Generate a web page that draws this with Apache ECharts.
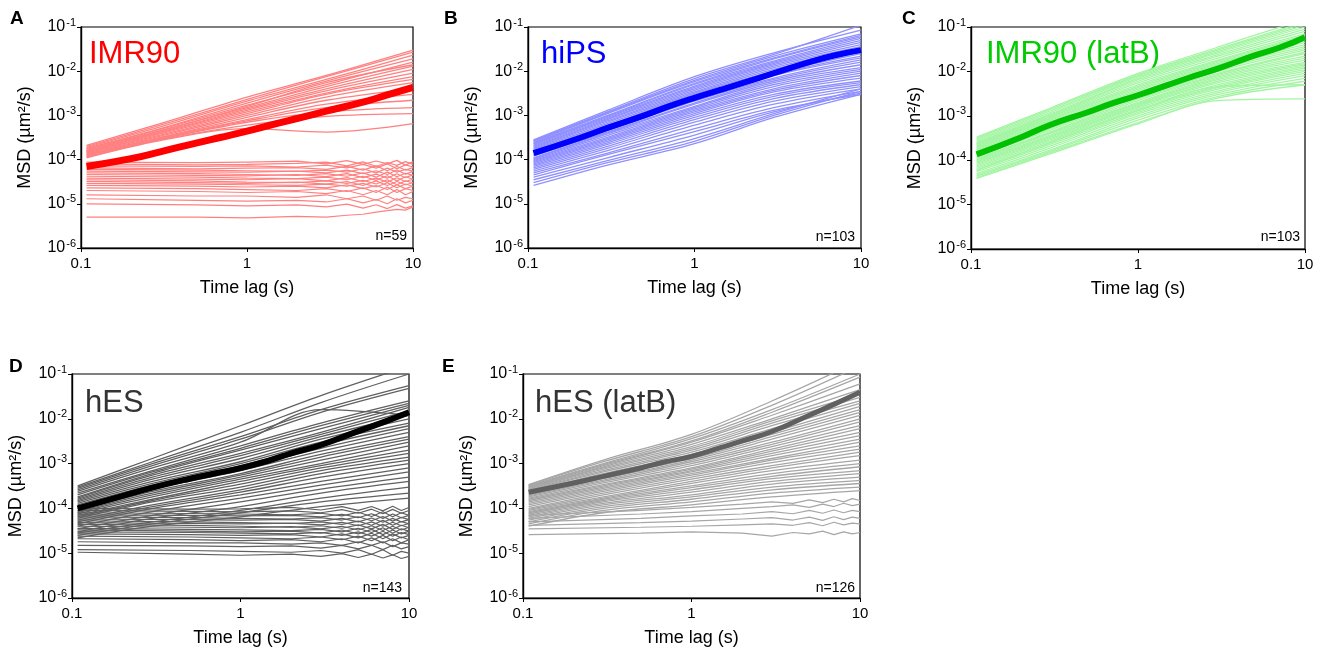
<!DOCTYPE html>
<html><head><meta charset="utf-8">
<script src="https://cdn.jsdelivr.net/npm/echarts@6/dist/echarts.min.js"></script>
<style>html,body{margin:0;padding:0;background:#fff}#c{width:1327px;height:648px}</style>
</head><body><div id="c"></div><script>
// ---------- DATA ----------
const LAGS = [0.108, 0.3, 1, 3, 10];
const NOISE_LAGS = [0.108, 0.5, 1, 2, 3, 4, 5, 6, 7, 8, 9, 10];
const MEAN_LAGS = [0.108, 0.2, 0.3, 0.5, 0.7, 1, 1.5, 2, 3, 5, 7, 10];
const X_TICKS = [0.1, 1, 10];
const Y_TICKS = [1e-6, 1e-5, 1e-4, 1e-3, 1e-2, 1e-1];
const PANEL_NAMES = ['IMR90', 'hiPS', 'IMR90 (latB)', 'hES', 'hES (latB)'];
const PANEL_N = ['n=59', 'n=103', 'n=103', 'n=143', 'n=126'];

const IMR90_MEAN = [7.0e-5, 1.05e-4, 1.5e-4, 2.4e-4, 3.2e-4, 4.4e-4, 6.5e-4, 8.5e-4, 1.25e-3, 2.0e-3, 2.9e-3, 4.3e-3];
const IMR90_RISING = [
 [2.1e-4, 6.5e-4, 2.6e-3, 8e-3, 3.0e-2],
 [2.0e-4, 6e-4, 2.3e-3, 7.5e-3, 2.7e-2],
 [1.9e-4, 5.5e-4, 2.1e-3, 6.5e-3, 2.3e-2],
 [1.8e-4, 5e-4, 1.9e-3, 6e-3, 1.9e-2],
 [1.75e-4, 4.8e-4, 1.7e-3, 5e-3, 1.6e-2],
 [1.7e-4, 4.5e-4, 1.5e-3, 4.5e-3, 1.3e-2],
 [1.6e-4, 4.2e-4, 1.4e-3, 4e-3, 1.1e-2],
 [1.55e-4, 4e-4, 1.3e-3, 3.6e-3, 9e-3],
 [1.5e-4, 3.8e-4, 1.2e-3, 3.2e-3, 7.5e-3],
 [1.45e-4, 3.6e-4, 1.1e-3, 3e-3, 6.5e-3],
 [1.4e-4, 3.4e-4, 1.0e-3, 2.6e-3, 5.5e-3],
 [1.35e-4, 3.2e-4, 9e-4, 2.2e-3, 4e-3],
 [1.3e-4, 3.1e-4, 8e-4, 1.8e-3, 3e-3],
 [1.25e-4, 3e-4, 7.5e-4, 1.5e-3, 2.2e-3],
 [1.2e-4, 2.9e-4, 7e-4, 1.2e-3, 1.5e-3],
 [1.15e-4, 2.8e-4, 6e-4, 9.5e-4, 1.1e-3],
 [1.1e-4, 2.7e-4, 5e-4, 4.2e-4, 6.5e-4],
 [1.6e-4, 4.4e-4, 1.6e-3, 5.5e-3, 1.4e-2]
];
const IMR90_FLAT = [
 [8.8e-5, 8.5e-5, 8.8e-5, 9.2e-5, 8e-5, 9.5e-5, 7.8e-5, 9.3e-5, 8e-5, 9.6e-5, 7.5e-5, 9e-5],
 [8e-5, 7.6e-5, 7.8e-5, 8.2e-5, 8.8e-5, 7.2e-5, 8.9e-5, 7e-5, 8.6e-5, 7.4e-5, 9e-5, 7.8e-5],
 [7.2e-5, 7e-5, 7.2e-5, 6.8e-5, 7.5e-5, 6.5e-5, 7.8e-5, 6.4e-5, 8e-5, 6.2e-5, 7.6e-5, 6.8e-5],
 [6.5e-5, 6.2e-5, 6.4e-5, 6.6e-5, 6e-5, 7e-5, 5.8e-5, 7.2e-5, 5.6e-5, 7e-5, 5.8e-5, 6.6e-5],
 [6e-5, 5.8e-5, 5.6e-5, 5.4e-5, 5.8e-5, 5.2e-5, 6.2e-5, 5e-5, 6.4e-5, 5.2e-5, 6e-5, 5.5e-5],
 [5.5e-5, 5.3e-5, 5.2e-5, 5.5e-5, 5e-5, 5.8e-5, 4.8e-5, 5.6e-5, 4.6e-5, 5.8e-5, 4.7e-5, 5.4e-5],
 [5e-5, 4.8e-5, 4.6e-5, 4.4e-5, 4.8e-5, 4.2e-5, 5e-5, 4e-5, 5.2e-5, 4.1e-5, 4.9e-5, 4.4e-5],
 [4.6e-5, 4.4e-5, 4.3e-5, 4.6e-5, 4.1e-5, 4.8e-5, 3.9e-5, 4.7e-5, 3.8e-5, 4.8e-5, 3.9e-5, 4.5e-5],
 [4.2e-5, 4e-5, 3.8e-5, 3.7e-5, 4e-5, 3.5e-5, 4.2e-5, 3.4e-5, 4.3e-5, 3.3e-5, 4.1e-5, 3.6e-5],
 [3.8e-5, 3.6e-5, 3.5e-5, 3.7e-5, 3.3e-5, 3.9e-5, 3.2e-5, 3.8e-5, 3.1e-5, 3.9e-5, 3.2e-5, 3.6e-5],
 [3.5e-5, 3.3e-5, 3.1e-5, 3e-5, 3.3e-5, 2.9e-5, 3.4e-5, 2.8e-5, 3.5e-5, 2.7e-5, 3.3e-5, 3e-5],
 [3.2e-5, 3e-5, 2.9e-5, 3.1e-5, 2.8e-5, 3.2e-5, 2.6e-5, 3.3e-5, 2.6e-5, 3.2e-5, 2.7e-5, 3e-5],
 [2.9e-5, 2.8e-5, 2.7e-5, 2.6e-5, 2.8e-5, 2.5e-5, 2.9e-5, 2.4e-5, 3e-5, 2.3e-5, 2.8e-5, 2.5e-5],
 [2.6e-5, 2.5e-5, 2.4e-5, 2.5e-5, 2.3e-5, 2.7e-5, 2.2e-5, 2.6e-5, 2.1e-5, 2.7e-5, 2.2e-5, 2.5e-5],
 [2.3e-5, 2.2e-5, 2.1e-5, 2e-5, 2.2e-5, 1.9e-5, 2.3e-5, 1.8e-5, 2.4e-5, 1.8e-5, 2.2e-5, 2e-5],
 [2e-5, 1.9e-5, 1.8e-5, 1.9e-5, 1.7e-5, 2e-5, 1.6e-5, 2e-5, 1.6e-5, 2.1e-5, 1.6e-5, 1.9e-5],
 [1.6e-5, 1.5e-5, 1.5e-5, 1.4e-5, 1.6e-5, 1.3e-5, 1.5e-5, 1.2e-5, 1.5e-5, 1.2e-5, 1.4e-5, 1.3e-5],
 [1.3e-5, 1.2e-5, 1.15e-5, 1.2e-5, 1.1e-5, 1.3e-5, 1.05e-5, 1.25e-5, 1e-5, 1.3e-5, 1.05e-5, 1.2e-5],
 [1e-5, 9.5e-6, 9e-6, 9.5e-6, 8.5e-6, 9.8e-6, 8e-6, 9.5e-6, 7.8e-6, 9.6e-6, 8e-6, 9e-6],
 [5e-6, 5e-6, 4.8e-6, 5.2e-6, 5e-6, 5.5e-6, 5.8e-6, 6.5e-6, 7e-6, 7.5e-6, 7.2e-6, 8.5e-6]
];

const HIPS_MEAN = [1.4e-4, 3e-4, 5.2e-4, 1.0e-3, 1.6e-3, 2.5e-3, 4e-3, 5.6e-3, 9e-3, 1.65e-2, 2.3e-2, 3.0e-2];
const HIPS_RISING = [
 [2.8e-4, 1.3e-3, 7.5e-3, 2.6e-2, 8.5e-2],
 [2.7e-4, 1.2e-3, 6.8e-3, 2.4e-2, 1.1e-1],
 [2.6e-4, 1.15e-3, 6.2e-3, 2.2e-2, 7e-2],
 [2.5e-4, 1.1e-3, 5.8e-3, 2e-2, 6.5e-2],
 [2.4e-4, 1.0e-3, 5.3e-3, 1.9e-2, 6e-2],
 [2.3e-4, 9.5e-4, 5e-3, 1.7e-2, 5.5e-2],
 [2.2e-4, 9e-4, 4.6e-3, 1.6e-2, 5e-2],
 [2.1e-4, 8.5e-4, 4.3e-3, 1.5e-2, 4.5e-2],
 [2.0e-4, 8e-4, 4e-3, 1.4e-2, 4e-2],
 [1.9e-4, 7.5e-4, 3.7e-3, 1.3e-2, 3.6e-2],
 [1.8e-4, 7e-4, 3.4e-3, 1.2e-2, 3.3e-2],
 [1.7e-4, 6.5e-4, 3.2e-3, 1.1e-2, 3e-2],
 [1.6e-4, 6e-4, 3e-3, 1.0e-2, 2.7e-2],
 [1.5e-4, 5.6e-4, 2.8e-3, 9e-3, 2.5e-2],
 [1.4e-4, 5.2e-4, 2.5e-3, 8.5e-3, 2.2e-2],
 [1.3e-4, 4.8e-4, 2.3e-3, 8e-3, 2e-2],
 [1.25e-4, 4.5e-4, 2.1e-3, 7e-3, 1.8e-2],
 [1.2e-4, 4.2e-4, 1.9e-3, 6.5e-3, 1.6e-2],
 [1.1e-4, 4e-4, 1.8e-3, 6e-3, 1.4e-2],
 [1.05e-4, 3.8e-4, 1.6e-3, 5.5e-3, 1.2e-2],
 [1.0e-4, 3.5e-4, 1.5e-3, 5e-3, 1.1e-2],
 [9.5e-5, 3.2e-4, 1.4e-3, 4.5e-3, 1.0e-2],
 [9e-5, 3e-4, 1.3e-3, 4e-3, 9e-3],
 [8.5e-5, 2.8e-4, 1.2e-3, 3.7e-3, 8e-3],
 [8e-5, 2.6e-4, 1.1e-3, 3.4e-3, 7e-3],
 [7.5e-5, 2.4e-4, 1.0e-3, 3e-3, 6e-3],
 [7e-5, 2.2e-4, 9e-4, 2.7e-3, 5.5e-3],
 [6.5e-5, 2e-4, 8e-4, 2.4e-3, 5e-3],
 [6e-5, 1.8e-4, 7e-4, 2.1e-3, 4.5e-3],
 [5.5e-5, 1.6e-4, 6e-4, 1.8e-3, 4e-3],
 [5e-5, 1.4e-4, 5e-4, 1.5e-3, 3.5e-3],
 [4.5e-5, 1.3e-4, 4.3e-4, 1.3e-3, 3e-3],
 [4e-5, 1.1e-4, 3.6e-4, 1.2e-3, 3.2e-3],
 [3.5e-5, 9.5e-5, 3e-4, 1.1e-3, 4e-3],
 [3e-5, 8.5e-5, 2.6e-4, 1.0e-3, 3.5e-3],
 [2.6e-5, 7.5e-5, 2.3e-4, 9e-4, 3e-3]
];

const LATB_MEAN = [1.35e-4, 3.3e-4, 6.3e-4, 1.2e-3, 1.9e-3, 2.9e-3, 4.9e-3, 7.1e-3, 1.15e-2, 2.3e-2, 3.4e-2, 5.9e-2];
const LATB_RISING = [
 [3.3e-4, 1.5e-3, 9e-3, 3.5e-2, 1.5e-1],
 [3.1e-4, 1.4e-3, 8.5e-3, 3.2e-2, 1.3e-1],
 [2.9e-4, 1.3e-3, 8e-3, 3e-2, 1.2e-1],
 [2.7e-4, 1.2e-3, 7.5e-3, 2.8e-2, 1.1e-1],
 [2.5e-4, 1.1e-3, 7e-3, 2.6e-2, 1.0e-1],
 [2.4e-4, 1.05e-3, 6.5e-3, 2.4e-2, 9e-2],
 [2.3e-4, 1.0e-3, 6e-3, 2.2e-2, 8e-2],
 [2.2e-4, 9.5e-4, 5.5e-3, 2e-2, 7e-2],
 [2.1e-4, 9e-4, 5e-3, 1.8e-2, 6.5e-2],
 [2e-4, 8.5e-4, 4.6e-3, 1.7e-2, 6e-2],
 [1.9e-4, 8e-4, 4.3e-3, 1.6e-2, 5.5e-2],
 [1.8e-4, 7.5e-4, 4e-3, 1.5e-2, 5e-2],
 [1.7e-4, 7e-4, 3.7e-3, 1.4e-2, 4.5e-2],
 [1.6e-4, 6.5e-4, 3.4e-3, 1.3e-2, 4e-2],
 [1.5e-4, 6e-4, 3.2e-3, 1.2e-2, 3.6e-2],
 [1.4e-4, 5.6e-4, 3e-3, 1.1e-2, 3.3e-2],
 [1.3e-4, 5.2e-4, 2.8e-3, 1e-2, 3e-2],
 [1.2e-4, 4.8e-4, 2.6e-3, 9e-3, 2.7e-2],
 [1.1e-4, 4.4e-4, 2.4e-3, 8.5e-3, 2.5e-2],
 [1.05e-4, 4.2e-4, 2.2e-3, 8e-3, 2.2e-2],
 [1e-4, 4e-4, 2e-3, 7.5e-3, 2e-2],
 [9.5e-5, 3.7e-4, 1.9e-3, 7e-3, 1.8e-2],
 [9e-5, 3.5e-4, 1.8e-3, 6.5e-3, 1.6e-2],
 [8.5e-5, 3.3e-4, 1.7e-3, 6e-3, 1.5e-2],
 [8e-5, 3.1e-4, 1.6e-3, 5.5e-3, 1.4e-2],
 [7.5e-5, 2.9e-4, 1.5e-3, 5e-3, 1.3e-2],
 [7e-5, 2.7e-4, 1.4e-3, 4.6e-3, 1.2e-2],
 [6.5e-5, 2.5e-4, 1.3e-3, 4.3e-3, 1.1e-2],
 [6e-5, 2.3e-4, 1.2e-3, 4e-3, 1e-2],
 [5.5e-5, 2.1e-4, 1.1e-3, 3.6e-3, 9e-3],
 [5e-5, 1.9e-4, 1e-3, 3.3e-3, 8e-3],
 [4.6e-5, 1.7e-4, 9e-4, 3e-3, 7e-3],
 [4.3e-5, 1.6e-4, 8e-4, 2.7e-3, 6e-3],
 [4e-5, 1.5e-4, 7e-4, 2.5e-3, 5e-3],
 [3.9e-5, 1.4e-4, 6.6e-4, 2.2e-3, 2.4e-3],
 [6e-5, 2.5e-4, 1.3e-3, 4.5e-3, 5e-3]
];

const HES_MEAN = [1.0e-4, 1.9e-4, 2.9e-4, 4.6e-4, 6e-4, 7.9e-4, 1.2e-3, 1.7e-3, 2.6e-3, 5.3e-3, 8.3e-3, 1.4e-2];
const HES_RISING = [
 [3.2e-4, 1.3e-3, 7e-3, 3.3e-2, 1.5e-1],
 [3e-4, 1.1e-3, 5e-3, 2.3e-2, 1e-1],
 [2.8e-4, 1e-3, 4e-3, 1.6e-2, 5.5e-2],
 [2.6e-4, 9e-4, 3.5e-3, 1.4e-2, 4.8e-2],
 [2.4e-4, 8e-4, 3e-3, 1.6e-2, 1.2e-2],
 [2.2e-4, 7e-4, 2.5e-3, 8e-3, 2.5e-2],
 [2e-4, 6.5e-4, 2.2e-3, 7e-3, 2.2e-2],
 [1.8e-4, 6e-4, 2e-3, 6e-3, 2e-2],
 [1.7e-4, 5.5e-4, 1.7e-3, 5e-3, 1.8e-2],
 [1.6e-4, 5e-4, 1.5e-3, 4.5e-3, 1.5e-2],
 [1.5e-4, 4.5e-4, 1.3e-3, 4e-3, 1.2e-2],
 [1.4e-4, 4e-4, 1.1e-3, 3.5e-3, 1e-2],
 [1.3e-4, 3.6e-4, 1e-3, 3e-3, 8e-3],
 [1.2e-4, 3.3e-4, 9e-4, 2.6e-3, 7e-3],
 [1.1e-4, 3e-4, 8e-4, 2.2e-3, 6e-3],
 [1e-4, 2.7e-4, 7e-4, 1.9e-3, 5e-3],
 [9e-5, 2.4e-4, 6e-4, 1.6e-3, 4e-3],
 [8.5e-5, 2.2e-4, 5.5e-4, 1.4e-3, 3.5e-3],
 [8e-5, 2e-4, 5e-4, 1.2e-3, 3e-3],
 [7.5e-5, 1.8e-4, 4.5e-4, 1e-3, 2.5e-3],
 [7e-5, 1.6e-4, 4e-4, 9e-4, 2e-3],
 [6.5e-5, 1.5e-4, 3.5e-4, 8e-4, 1.7e-3],
 [6e-5, 1.4e-4, 3e-4, 7e-4, 1.4e-3],
 [5.5e-5, 1.2e-4, 2.6e-4, 6e-4, 1.2e-3],
 [5e-5, 1.1e-4, 2.3e-4, 5e-4, 1e-3],
 [4.5e-5, 1e-4, 2e-4, 4e-4, 8e-4],
 [4e-5, 8.5e-5, 1.7e-4, 3.3e-4, 6.5e-4],
 [3.5e-5, 7e-5, 1.4e-4, 2.7e-4, 5e-4],
 [3e-5, 6e-5, 1.1e-4, 2.2e-4, 4e-4],
 [2.8e-5, 5e-5, 9e-5, 1.7e-4, 3e-4],
 [2.5e-5, 4.5e-5, 8e-5, 1.4e-4, 2.2e-4],
 [2.2e-5, 4e-5, 6.5e-5, 1.1e-4, 1.7e-4]
];
const HES_FLAT = [
 [1e-4, 9.6e-5, 9.8e-5, 1.05e-4, 9.2e-5, 1.1e-4, 9e-5, 1.1e-4, 8.8e-5, 1.12e-4, 9e-5, 1.05e-4],
 [9e-5, 8.6e-5, 8.4e-5, 8.8e-5, 8e-5, 9.4e-5, 7.8e-5, 9.6e-5, 7.6e-5, 9.5e-5, 7.8e-5, 9e-5],
 [8e-5, 7.7e-5, 7.5e-5, 7.2e-5, 7.8e-5, 6.8e-5, 8.2e-5, 6.6e-5, 8.4e-5, 6.5e-5, 8e-5, 7e-5],
 [7.2e-5, 7e-5, 6.8e-5, 7e-5, 6.5e-5, 7.4e-5, 6.2e-5, 7.6e-5, 6e-5, 7.5e-5, 6.2e-5, 7e-5],
 [6.5e-5, 6.2e-5, 6e-5, 5.8e-5, 6.2e-5, 5.5e-5, 6.5e-5, 5.3e-5, 6.6e-5, 5.2e-5, 6.3e-5, 5.6e-5],
 [5.8e-5, 5.6e-5, 5.5e-5, 5.7e-5, 5.2e-5, 6e-5, 5e-5, 6.1e-5, 4.9e-5, 6e-5, 5e-5, 5.6e-5],
 [5.3e-5, 5e-5, 4.8e-5, 4.6e-5, 5e-5, 4.4e-5, 5.2e-5, 4.2e-5, 5.4e-5, 4.2e-5, 5.1e-5, 4.5e-5],
 [4.8e-5, 4.6e-5, 4.5e-5, 4.7e-5, 4.3e-5, 4.9e-5, 4.1e-5, 5e-5, 4e-5, 4.9e-5, 4.1e-5, 4.6e-5],
 [4.4e-5, 4.2e-5, 4e-5, 3.8e-5, 4.1e-5, 3.6e-5, 4.3e-5, 3.5e-5, 4.4e-5, 3.4e-5, 4.2e-5, 3.7e-5],
 [4e-5, 3.8e-5, 3.7e-5, 3.9e-5, 3.5e-5, 4e-5, 3.3e-5, 4.1e-5, 3.2e-5, 4e-5, 3.3e-5, 3.8e-5],
 [3.6e-5, 3.4e-5, 3.3e-5, 3.2e-5, 3.4e-5, 3e-5, 3.6e-5, 2.9e-5, 3.7e-5, 2.8e-5, 3.5e-5, 3.1e-5],
 [3.3e-5, 3.1e-5, 3e-5, 3.1e-5, 2.8e-5, 3.3e-5, 2.7e-5, 3.4e-5, 2.6e-5, 3.3e-5, 2.7e-5, 3.1e-5],
 [3e-5, 2.9e-5, 2.8e-5, 2.7e-5, 2.9e-5, 2.5e-5, 3e-5, 2.4e-5, 3.1e-5, 2.4e-5, 2.9e-5, 2.6e-5],
 [2.7e-5, 2.6e-5, 2.5e-5, 2.6e-5, 2.3e-5, 2.7e-5, 2.2e-5, 2.8e-5, 2.1e-5, 2.7e-5, 2.2e-5, 2.5e-5],
 [2.4e-5, 2.3e-5, 2.2e-5, 2.1e-5, 2.3e-5, 2e-5, 2.4e-5, 1.9e-5, 2.5e-5, 1.9e-5, 2.3e-5, 2e-5],
 [2.1e-5, 2e-5, 1.9e-5, 2e-5, 1.8e-5, 2.1e-5, 1.7e-5, 2.2e-5, 1.7e-5, 2.1e-5, 1.7e-5, 2e-5],
 [1.8e-5, 1.7e-5, 1.7e-5, 1.6e-5, 1.7e-5, 1.5e-5, 1.8e-5, 1.5e-5, 1.8e-5, 1.4e-5, 1.7e-5, 1.6e-5],
 [1.5e-5, 1.45e-5, 1.4e-5, 1.45e-5, 1.3e-5, 1.5e-5, 1.25e-5, 1.5e-5, 1.2e-5, 1.5e-5, 1.25e-5, 1.4e-5],
 [1.2e-5, 1.15e-5, 1.1e-5, 1.05e-5, 1.15e-5, 1e-5, 1.2e-5, 9.5e-6, 1.2e-5, 9e-6, 1.1e-5, 1e-5],
 [1.05e-5, 9.5e-6, 9e-6, 9.5e-6, 8.5e-6, 9.8e-6, 8e-6, 9.5e-6, 7.8e-6, 9.2e-6, 7.6e-6, 8.5e-6]
];

const HESLATB_MEAN = [2.3e-4, 3.7e-4, 5.2e-4, 8e-4, 1.1e-3, 1.45e-3, 2.3e-3, 3.2e-3, 5.2e-3, 1.2e-2, 2.1e-2, 3.9e-2];
const HESLATB_RISING = [
 [3.4e-4, 1.2e-3, 4.5e-3, 2.5e-2, 2e-1],
 [3.3e-4, 1.1e-3, 4e-3, 2e-2, 1.5e-1],
 [3.2e-4, 1e-3, 3.6e-3, 1.6e-2, 1e-1],
 [3.1e-4, 9.5e-4, 3.2e-3, 1.4e-2, 8.5e-2],
 [3e-4, 9e-4, 3e-3, 1.2e-2, 6e-2],
 [2.9e-4, 8.5e-4, 2.7e-3, 1e-2, 4.5e-2],
 [2.8e-4, 8e-4, 2.4e-3, 9e-3, 3.5e-2],
 [2.7e-4, 7.5e-4, 2.2e-3, 8e-3, 3e-2],
 [2.6e-4, 7e-4, 2e-3, 7e-3, 2.5e-2],
 [2.5e-4, 6.5e-4, 1.8e-3, 6e-3, 2.2e-2],
 [2.4e-4, 6e-4, 1.6e-3, 5e-3, 1.9e-2],
 [2.2e-4, 5.5e-4, 1.4e-3, 4.5e-3, 1.6e-2],
 [2.1e-4, 5e-4, 1.3e-3, 4e-3, 1.4e-2],
 [2e-4, 4.6e-4, 1.2e-3, 3.5e-3, 1.2e-2],
 [1.9e-4, 4.3e-4, 1.1e-3, 3e-3, 1e-2],
 [1.8e-4, 4e-4, 1e-3, 2.7e-3, 8.5e-3],
 [1.7e-4, 3.7e-4, 9e-4, 2.4e-3, 7e-3],
 [1.6e-4, 3.4e-4, 8e-4, 2.1e-3, 6e-3],
 [1.5e-4, 3.2e-4, 7.5e-4, 1.9e-3, 5e-3],
 [1.4e-4, 3e-4, 7e-4, 1.7e-3, 4.2e-3],
 [1.3e-4, 2.8e-4, 6.5e-4, 1.5e-3, 3.5e-3],
 [1.2e-4, 2.6e-4, 6e-4, 1.3e-3, 3e-3],
 [1.1e-4, 2.4e-4, 5.5e-4, 1.2e-3, 2.5e-3],
 [1e-4, 2.2e-4, 5e-4, 1.05e-3, 2.1e-3],
 [9.5e-5, 2e-4, 4.5e-4, 9e-4, 1.8e-3],
 [9e-5, 1.8e-4, 4e-4, 8e-4, 1.5e-3],
 [8.5e-5, 1.7e-4, 3.6e-4, 7e-4, 1.2e-3],
 [8e-5, 1.6e-4, 3.2e-4, 6e-4, 1e-3],
 [7.5e-5, 1.5e-4, 2.9e-4, 5.2e-4, 8.5e-4],
 [7e-5, 1.4e-4, 2.6e-4, 4.6e-4, 7e-4],
 [6.5e-5, 1.3e-4, 2.3e-4, 4e-4, 6e-4],
 [6e-5, 1.2e-4, 2e-4, 3.5e-4, 5e-4],
 [5.5e-5, 1.1e-4, 1.8e-4, 3e-4, 4.2e-4],
 [5e-5, 1e-4, 1.6e-4, 2.6e-4, 3.6e-4],
 [4.5e-5, 9e-5, 1.4e-4, 2.2e-4, 3e-4],
 [4e-5, 8e-5, 1.2e-4, 1.8e-4, 2.5e-4]
];
const HESLATB_FLAT = [
 [7e-5, 9e-5, 1.05e-4, 1.25e-4, 1.4e-4, 1.3e-4, 1.55e-4, 1.35e-4, 1.6e-4, 1.4e-4, 1.65e-4, 1.5e-4],
 [6e-5, 7.5e-5, 8.5e-5, 1e-4, 1.1e-4, 1.2e-4, 1.05e-4, 1.25e-4, 1.1e-4, 1.3e-4, 1.15e-4, 1.25e-4],
 [5e-5, 6e-5, 6.8e-5, 7.5e-5, 8.5e-5, 7.6e-5, 9e-5, 7.8e-5, 9.2e-5, 8e-5, 9e-5, 8.5e-5],
 [4.2e-5, 4.8e-5, 5.2e-5, 5.8e-5, 6.2e-5, 5.5e-5, 6.4e-5, 5.4e-5, 6.5e-5, 5.6e-5, 6.4e-5, 6e-5],
 [3.5e-5, 3.8e-5, 4e-5, 4.3e-5, 4.5e-5, 4.2e-5, 4.8e-5, 4.1e-5, 4.9e-5, 4.3e-5, 4.7e-5, 4.5e-5],
 [2.6e-5, 2.8e-5, 3e-5, 2.8e-5, 2.4e-5, 2.9e-5, 2.7e-5, 3.1e-5, 2.6e-5, 3e-5, 2.7e-5, 2.9e-5]
];

// ---------- LAYOUT / STYLE ----------
const FONT = 'Liberation Sans, Arial, Helvetica, sans-serif';
const panels = [
  {grid:{left:81, top:27, width:332, height:221}, light:'#ff8080', dark:'#ff0000', meanW:7, titleColor:'#ff0000',
   rising:IMR90_RISING, flat:IMR90_FLAT, mean:IMR90_MEAN, letter:'A', lx:10, ly:19, tx:89, ty:54, nx:407, ny:236},
  {grid:{left:528, top:27, width:333, height:221}, light:'#8f8fff', dark:'#0000ff', meanW:6, titleColor:'#0000ff',
   rising:HIPS_RISING, flat:[], mean:HIPS_MEAN, letter:'B', lx:444, ly:19, tx:541, ty:54, nx:855, ny:237},
  {grid:{left:971, top:27, width:334, height:222}, light:'#a3f5a3', dark:'#00c000', meanW:6, titleColor:'#00cc00',
   rising:LATB_RISING, flat:[], mean:LATB_MEAN, letter:'C', lx:902, ly:19, tx:986, ty:54, nx:1300, ny:237},
  {grid:{left:72, top:374, width:337, height:224}, light:'#606060', dark:'#000000', meanW:6, titleColor:'#333333',
   rising:HES_RISING, flat:HES_FLAT, mean:HES_MEAN, letter:'D', lx:9, ly:367, tx:85, ty:403, nx:402, ny:588},
  {grid:{left:523, top:374, width:337, height:224}, light:'#a6a6a6', dark:'#606060', meanW:5, titleColor:'#333333',
   rising:HESLATB_RISING, flat:HESLATB_FLAT, mean:HESLATB_MEAN, letter:'E', lx:442, ly:367, tx:535, ty:403, nx:855, ny:588}
];

const grids = [], xAxes = [], yAxes = [], series = [], graphics = [];
panels.forEach((p, i) => {
  grids.push(Object.assign({show:true, borderColor:'#000', borderWidth:1.2, backgroundColor:'transparent', containLabel:false}, p.grid));
  xAxes.push({
    type:'log', logBase:10, gridIndex:i, min:X_TICKS[0], max:X_TICKS[X_TICKS.length-1],
    axisLine:{show:true, onZero:false, lineStyle:{color:'#000', width:1.4}},
    axisTick:{show:true, inside:false, length:4, lineStyle:{color:'#000', width:1}},
    axisLabel:{color:'#000', fontSize:15, fontFamily:FONT, margin:8,
      formatter: v => (v < 1 ? v.toFixed(1) : String(Math.round(v)))},
    splitLine:{show:false},
    name:'Time lag (s)', nameLocation:'middle', nameGap:31,
    nameTextStyle:{color:'#000', fontSize:18, fontFamily:FONT}
  });
  yAxes.push({
    type:'log', logBase:10, gridIndex:i, min:Y_TICKS[0], max:Y_TICKS[Y_TICKS.length-1],
    axisLine:{show:true, onZero:false, lineStyle:{color:'#000', width:1.4}},
    axisTick:{show:true, inside:false, length:4, lineStyle:{color:'#000', width:1}},
    axisLabel:{margin:5, formatter: v => '{b|10}{s|' + Math.round(Math.log10(v)) + '}',
      rich:{b:{fontSize:16, fontFamily:FONT, color:'#000', lineHeight:18},
            s:{fontSize:11, fontFamily:FONT, color:'#000', lineHeight:11, padding:[0,0,9,1]}}},
    splitLine:{show:false},
    name:'MSD (µm²/s)', nameLocation:'middle', nameGap:47, nameRotate:90,
    nameTextStyle:{color:'#000', fontSize:18, fontFamily:FONT}
  });
  const mk = (lags, vals, color, width, smooth, z) => ({
    type:'line', xAxisIndex:i, yAxisIndex:i, data:lags.map((t, k) => [t, vals[k]]),
    symbol:'none', showSymbol:false, smooth:smooth, clip:true, silent:true, animation:false,
    lineStyle:{color:color, width:width}, z:z
  });
  p.flat.forEach(v => series.push(mk(NOISE_LAGS, v, p.light, 1.2, false, 2)));
  p.rising.forEach(v => series.push(mk(LAGS, v, p.light, 1.3, 0.35, 2)));
  series.push(mk(MEAN_LAGS, p.mean, p.dark, p.meanW, 0.5, 5));

  graphics.push({type:'text', x:p.lx, y:p.ly, style:{text:p.letter, font:'bold 19px ' + FONT, fill:'#000', textVerticalAlign:'middle', verticalAlign:'middle'}});
  graphics.push({type:'text', x:p.tx, y:p.ty, style:{text:PANEL_NAMES[i], font:'31px ' + FONT, fill:p.titleColor, textVerticalAlign:'middle', verticalAlign:'middle'}});
  graphics.push({type:'text', x:p.nx, y:p.ny, style:{text:PANEL_N[i], font:'14px ' + FONT, fill:'#000', textAlign:'right', align:'right', textVerticalAlign:'middle', verticalAlign:'middle'}});
});

const chart = echarts.init(document.getElementById('c'), null, {renderer:'canvas'});
chart.setOption({
  animation:false,
  backgroundColor:'#fff',
  grid:grids, xAxis:xAxes, yAxis:yAxes, series:series,
  graphic:{elements:graphics}
});
</script></body></html>
